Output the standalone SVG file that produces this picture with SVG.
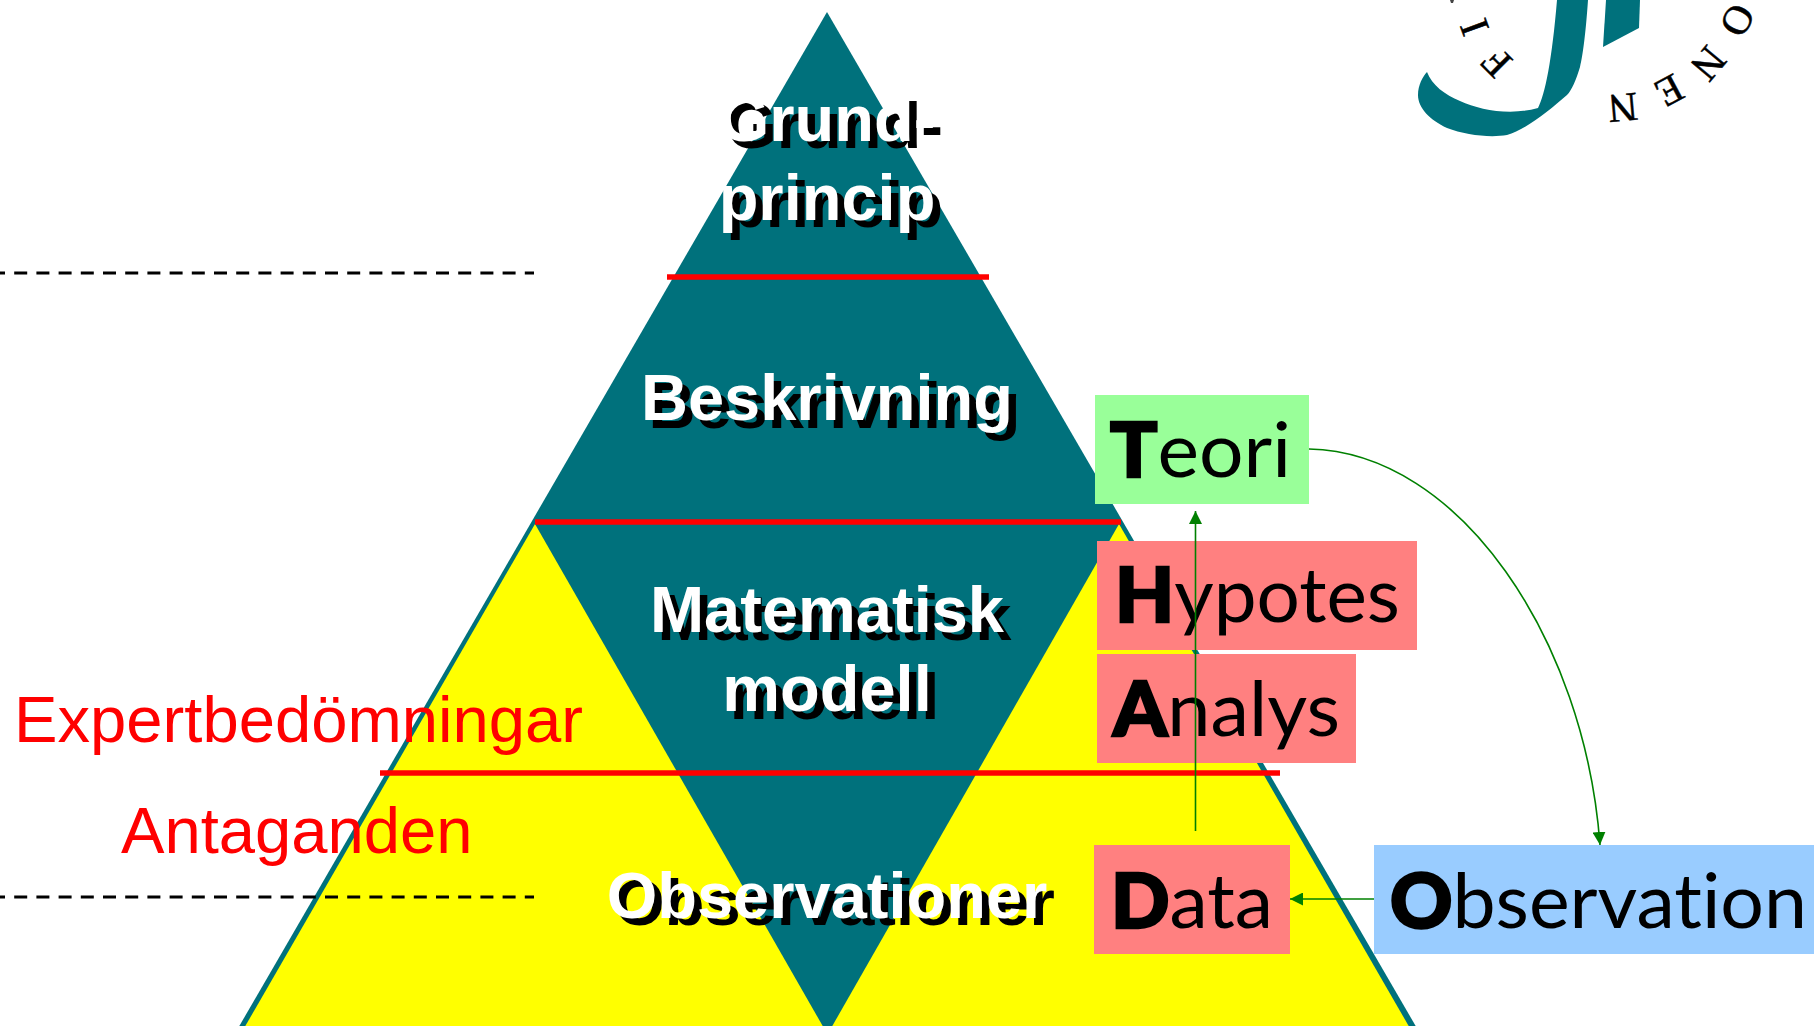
<svg xmlns="http://www.w3.org/2000/svg" width="1814" height="1026" viewBox="0 0 1814 1026">
<style>
.t{font-family:"Liberation Sans",Arial,sans-serif;font-weight:bold;font-size:65px;text-anchor:middle}
.w{fill:#fff}.s{fill:#000}
.r{font-family:"Liberation Sans",Arial,sans-serif;font-size:65.2px;fill:#f00}
.b{font-family:Lato,"Noto Sans",sans-serif;font-size:76px;fill:#000;font-variant-ligatures:none}
.b tspan{font-weight:900;stroke:#000;stroke-width:2.5px}
.l{font-family:"Liberation Serif",serif;font-size:41px;fill:#000;stroke:#000;stroke-width:.5px;text-anchor:middle}
.red{stroke:#f00;stroke-width:5.5;fill:none}
.dash{stroke:#000;stroke-width:2.8;stroke-dasharray:13 9.2;fill:none}
.g{stroke:#008000;stroke-width:1.6;fill:none}
.teal{fill:#00717c}
</style>
<defs>
<marker id="ah" markerUnits="userSpaceOnUse" markerWidth="13" markerHeight="13" refX="13" refY="6.5" orient="auto"><path d="M0 0L13 6.5L0 13Z" fill="#008000"/></marker>
</defs>
<rect width="1814" height="1026" fill="#fff"/>
<g id="logo">
<path class="teal" d="M1557 0L1588 0C1586 30 1583 55 1580 67C1576 80 1572 90 1567 95C1550 110 1525 130 1507 135C1490 138 1465 135 1447 128C1430 120 1418 108 1418 95C1418 85 1423 76 1427 72C1432 85 1445 95 1460 101C1480 110 1510 116 1538 108C1545 95 1552 60 1557 0Z"/>
<path class="teal" d="M1606 0L1640 0L1639 28L1603 47Z"/>
<path d="M1450 0L1454 0L1453 3L1451 3Z" fill="#444"/>
<text class="l" transform="translate(1475 27) rotate(250) translate(0 13)">I</text>
<text class="l" transform="translate(1497 62) rotate(225) translate(0 13)">F</text>
<text class="l" transform="translate(1623 107) rotate(175) translate(0 13)">N</text>
<text class="l" transform="translate(1669 90) rotate(152) translate(0 13)">E</text>
<text class="l" transform="translate(1708 63) rotate(130) translate(0 13)">N</text>
<text class="l" transform="translate(1737 20) rotate(118) translate(0 13)">O</text>
</g>
<g id="pyramid">
<polygon class="teal" points="827,12 237,1030 1418,1030"/>
<polygon fill="#ff0" points="535,524 243,1030 825,1030"/>
<polygon fill="#ff0" points="1119,524 830,1030 1411,1030"/>
</g>
<g id="dividers">
<line class="red" x1="667" y1="277" x2="989" y2="277"/>
<line class="red" x1="535" y1="522" x2="1121" y2="522"/>
<line class="red" x1="380" y1="773" x2="1280" y2="773"/>
<line class="dash" x1="-8" y1="273" x2="534" y2="273"/>
<line class="dash" x1="-8" y1="897" x2="534" y2="897"/>
</g>
<g id="level-grundprincip">
<text class="t s" x="834.5" y="148">Grund-</text><text class="t s" x="834.5" y="227">princip</text>
<text class="t w" x="827" y="140.5">Grund-</text><text class="t w" x="827" y="220">princip</text>
</g>
<g id="level-beskrivning">
<text class="t s" x="834.5" y="427.5">Beskrivning</text>
<text class="t w" x="827" y="420">Beskrivning</text>
</g>
<g id="level-matematisk">
<text class="t s" x="834.5" y="639.5">Matematisk</text><text class="t s" x="834.5" y="718.5">modell</text>
<text class="t w" x="827" y="632">Matematisk</text><text class="t w" x="827" y="711">modell</text>
</g>
<g id="level-observationer">
<text class="t s" x="834.5" y="925">Observationer</text>
<text class="t w" x="827" y="917.5">Observationer</text>
</g>
<g id="notes">
<text class="r" x="14" y="742">Expertbedömningar</text>
<text class="r" x="121" y="853">Antaganden</text>
</g>
<g id="node-teori"><rect x="1095" y="395" width="214" height="109" fill="#9f9"/><text class="b" x="1110" y="477" textLength="181" lengthAdjust="spacingAndGlyphs"><tspan>T</tspan>eori</text></g>
<g id="node-hypotes"><rect x="1097" y="541" width="320" height="109" fill="#ff8080"/><text class="b" x="1115" y="622" textLength="285" lengthAdjust="spacingAndGlyphs"><tspan>H</tspan>ypotes</text></g>
<g id="node-analys"><rect x="1097" y="654" width="259" height="109" fill="#ff8080"/><text class="b" x="1113" y="736" textLength="227" lengthAdjust="spacingAndGlyphs"><tspan>A</tspan>nalys</text></g>
<g id="node-data"><rect x="1094" y="845" width="196" height="109" fill="#ff8080"/><text class="b" x="1111" y="928" textLength="162" lengthAdjust="spacingAndGlyphs"><tspan>D</tspan>ata</text></g>
<g id="node-observation"><rect x="1374" y="845" width="440" height="109" fill="#9cf"/><text class="b" x="1390" y="928" textLength="417" lengthAdjust="spacingAndGlyphs"><tspan>O</tspan>bservation</text></g>
<g id="connectors">
<line class="g" x1="1195.5" y1="831" x2="1195.5" y2="511" marker-end="url(#ah)"/>
<path class="g" d="M1309 449C1460 452 1585 640 1600 845" marker-end="url(#ah)"/>
<line class="g" x1="1374" y1="899" x2="1290" y2="899" marker-end="url(#ah)"/>
</g>
</svg>
